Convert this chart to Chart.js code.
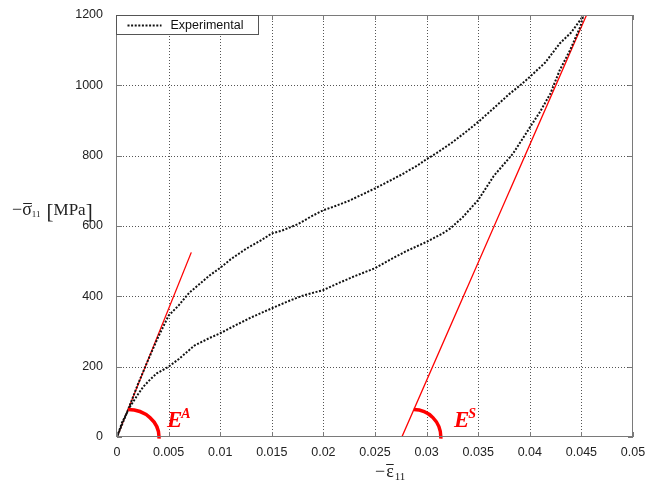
<!DOCTYPE html>
<html><head><meta charset="utf-8">
<script src="https://cdn.jsdelivr.net/npm/chart.js@4.4.1/dist/chart.umd.min.js"></script>
<style>html,body{margin:0;padding:0;background:#fff;}#wrap{width:648px;height:482px;}</style>
</head><body><div id="wrap"><canvas id="c" width="648" height="482"></canvas></div>
<script>
// ---- data ----
const xTicks = [0, 0.005, 0.01, 0.015, 0.02, 0.025, 0.03, 0.035, 0.04, 0.045, 0.05];
const yTicks = [0, 200, 400, 600, 800, 1000, 1200];
const seriesLabel = 'Experimental';
// lower branch (origin -> peak)
const lowerStrain = [0, 0.0005, 0.00126, 0.002, 0.00255, 0.0032, 0.00385, 0.005, 0.006, 0.0075, 0.009, 0.010, 0.0115, 0.013, 0.015, 0.0165, 0.018, 0.020, 0.0215, 0.023, 0.025, 0.0265, 0.028, 0.030, 0.0315, 0.0323, 0.0335, 0.035, 0.0365, 0.0384, 0.040, 0.041, 0.042, 0.0429, 0.0439, 0.0449, 0.0452];
const lowerStress = [0, 42, 86, 120, 143, 163, 181, 200, 222, 260, 282, 295, 318, 340, 366, 385, 402, 418, 438, 457, 480, 505, 528, 555, 578, 593, 625, 674, 742, 807, 880, 925, 977, 1043, 1100, 1167, 1200];
// upper branch (peak -> origin)
const upperStrain = [0.0452, 0.0449, 0.0440, 0.0429, 0.0415, 0.0400, 0.0391, 0.0380, 0.0365, 0.0352, 0.0340, 0.0325, 0.0310, 0.0300, 0.0290, 0.0275, 0.0260, 0.0250, 0.0240, 0.0225, 0.0210, 0.0200, 0.0190, 0.0175, 0.0160, 0.0150, 0.0140, 0.0125, 0.0110, 0.0100, 0.0090, 0.0080, 0.0070, 0.0060, 0.0050, 0.0040, 0.0030, 0.0020, 0.0010, 0];
const upperStress = [1200, 1186, 1150, 1119, 1065, 1024, 1001, 975, 935, 901, 872, 838, 808, 790, 770, 745, 722, 707, 693, 672, 655, 645, 630, 605, 587, 579, 560, 535, 505, 481, 460, 435, 410, 375, 345, 285, 218, 148, 72, 0];
// tangent lines
const eaStrain = [0, 0.0072], eaStress = [0, 525];
const esStrain = [0.0276, 0.0455], esStress = [0, 1200];
const arcAnchorStress = 78;

const expPts = lowerStrain.map((x, i) => ({x, y: lowerStress[i]}))
  .concat(upperStrain.map((x, i) => ({x, y: upperStress[i]})));
const eaPts = eaStrain.map((x, i) => ({x, y: eaStress[i]}));
const esPts = esStrain.map((x, i) => ({x, y: esStress[i]}));

const SANS = '"Liberation Sans", Arial, sans-serif';
const SERIF = '"Liberation Serif", "Times New Roman", serif';
const DOTS = [2, 1.6];

const deco = {
  id: 'deco',
  beforeDatasetsDraw(chart) {
    const {ctx, chartArea: a, scales: {x, y}} = chart;
    ctx.save();
    ctx.strokeStyle = '#555'; ctx.lineWidth = 1; ctx.setLineDash([1, 2]);
    xTicks.slice(1, -1).forEach(v => {
      const px = Math.round(x.getPixelForValue(v)) + 0.5;
      ctx.beginPath(); ctx.moveTo(px, a.top); ctx.lineTo(px, a.bottom); ctx.stroke();
    });
    yTicks.slice(1, -1).forEach(v => {
      const py = Math.round(y.getPixelForValue(v)) + 0.5;
      ctx.beginPath(); ctx.moveTo(a.left, py); ctx.lineTo(a.right, py); ctx.stroke();
    });
    ctx.restore();
  },
  afterDatasetsDraw(chart) {
    const {ctx, chartArea: a, scales: {x, y}} = chart;
    ctx.save();
    // arcs
    ctx.strokeStyle = '#ff0000'; ctx.lineWidth = 3.5; ctx.setLineDash([]);
    const arcs = [
      {slope: (eaStress[1]-eaStress[0])/(eaStrain[1]-eaStrain[0]), x0: eaStrain[0], rx: 31},
      {slope: (esStress[1]-esStress[0])/(esStrain[1]-esStrain[0]), x0: esStrain[0], rx: 27}
    ];
    arcs.forEach(o => {
      const cx = x.getPixelForValue(o.x0 + arcAnchorStress / o.slope);
      const cy = y.getPixelForValue(0);
      const ry = cy - y.getPixelForValue(arcAnchorStress);
      ctx.beginPath(); ctx.ellipse(cx, cy, o.rx, ry, 0, -Math.PI/2, 0.06); ctx.stroke();
    });
    // E labels
    ctx.fillStyle = '#ff0000'; ctx.textBaseline = 'alphabetic'; ctx.textAlign = 'left';
    const lab = (px, base, sup) => {
      ctx.font = 'italic bold 23px ' + SERIF;
      ctx.fillText('E', px, base);
      const w = ctx.measureText('E').width;
      ctx.font = 'italic bold 14px ' + SERIF;
      ctx.fillText(sup, px + w - 1, base - 9);
    };
    lab(167, 427, 'A');
    lab(454, 427, 'S');
    // frame
    ctx.strokeStyle = '#7a7a7a'; ctx.lineWidth = 1;
    ctx.strokeRect(a.left - 0.5, a.top + 0.5, a.right - a.left, a.bottom - a.top - 1);
    // inward tick marks
    ctx.beginPath();
    xTicks.forEach(v => {
      const px = Math.round(x.getPixelForValue(v)) + 0.5;
      ctx.moveTo(px, a.bottom); ctx.lineTo(px, a.bottom - 5);
      ctx.moveTo(px, a.top); ctx.lineTo(px, a.top + 5);
    });
    yTicks.forEach(v => {
      const py = Math.round(y.getPixelForValue(v)) + 0.5;
      ctx.moveTo(a.left, py); ctx.lineTo(a.left + 5, py);
      ctx.moveTo(a.right, py); ctx.lineTo(a.right - 5, py);
    });
    ctx.stroke();
    // legend
    const lx = a.left - 0.5, ly = a.top + 0.5, lw = 142, lh = 19;
    ctx.fillStyle = '#fff'; ctx.fillRect(lx, ly, lw, lh);
    ctx.strokeStyle = '#555'; ctx.strokeRect(lx, ly, lw, lh);
    ctx.strokeStyle = '#111'; ctx.lineWidth = 2; ctx.setLineDash(DOTS);
    ctx.beginPath(); ctx.moveTo(lx + 11, ly + 10); ctx.lineTo(lx + 45, ly + 10); ctx.stroke();
    ctx.setLineDash([]);
    ctx.fillStyle = '#111'; ctx.font = '12.5px ' + SANS; ctx.textBaseline = 'middle';
    ctx.fillText(seriesLabel, lx + 54, ly + 10);
    // axis titles
    ctx.fillStyle = '#222'; ctx.textBaseline = 'alphabetic';
    // y title: −σ̄11 [MPa]
    let px = 12, base = 215;
    ctx.font = '18px ' + SERIF;
    ctx.fillText('\u2212', px, base); px += ctx.measureText('\u2212').width;
    const sw = ctx.measureText('\u03C3').width;
    ctx.fillText('\u03C3', px, base);
    ctx.fillRect(px + 1, base - 12, sw - 1, 1);
    px += sw;
    ctx.font = '9px ' + SERIF; ctx.fillText('11', px, base + 2); px += ctx.measureText('11').width + 6;
    ctx.font = '21px ' + SERIF; ctx.fillText('[', px, base + 3); px += ctx.measureText('[').width;
    ctx.font = '17px ' + SERIF; ctx.fillText('MPa', px, base); px += ctx.measureText('MPa').width;
    ctx.font = '21px ' + SERIF; ctx.fillText(']', px, base + 3);
    // x title: −ε̄11
    px = 375; base = 477;
    ctx.font = '18px ' + SERIF;
    ctx.fillText('\u2212', px, base); px += ctx.measureText('\u2212').width + 1;
    const ew = ctx.measureText('\u03B5').width;
    ctx.fillText('\u03B5', px, base);
    ctx.fillRect(px, base - 13, ew, 1);
    px += ew + 1;
    ctx.font = '11px ' + SERIF; ctx.fillText('11', px, base + 3);
    ctx.restore();
  }
};

new Chart(document.getElementById('c'), {
  type: 'scatter',
  data: {
    datasets: [
      {label: seriesLabel, data: expPts, showLine: true, borderColor: '#111', borderWidth: 2,
       borderDash: DOTS, pointRadius: 0, tension: 0, fill: false},
      {label: 'EA', data: eaPts, showLine: true, borderColor: '#ff0000', borderWidth: 1.3, pointRadius: 0},
      {label: 'ES', data: esPts, showLine: true, borderColor: '#ff0000', borderWidth: 1.3, pointRadius: 0}
    ]
  },
  options: {
    responsive: false, animation: false, devicePixelRatio: 1,
    layout: {padding: {top: 15, right: 15, left: 0, bottom: 0}},
    plugins: {legend: {display: false}, tooltip: {enabled: false}},
    scales: {
      x: {type: 'linear', min: 0, max: 0.05,
          afterBuildTicks: s => { s.ticks = xTicks.map(v => ({value: v})); },
          afterFit: s => { s.height = 45; },
          grid: {display: false}, border: {display: false},
          ticks: {color: '#222', font: {family: SANS, size: 12.5}, padding: 0, maxRotation: 0,
                  callback: v => String(Number(v.toFixed(4)))}},
      y: {type: 'linear', min: 0, max: 1200,
          afterBuildTicks: s => { s.ticks = yTicks.map(v => ({value: v})); },
          afterFit: s => { s.width = 117; },
          grid: {display: false}, border: {display: false},
          ticks: {color: '#222', font: {family: SANS, size: 12.5}, padding: 6,
                  callback: v => String(v)}}
    }
  },
  plugins: [deco]
});
</script></body></html>
